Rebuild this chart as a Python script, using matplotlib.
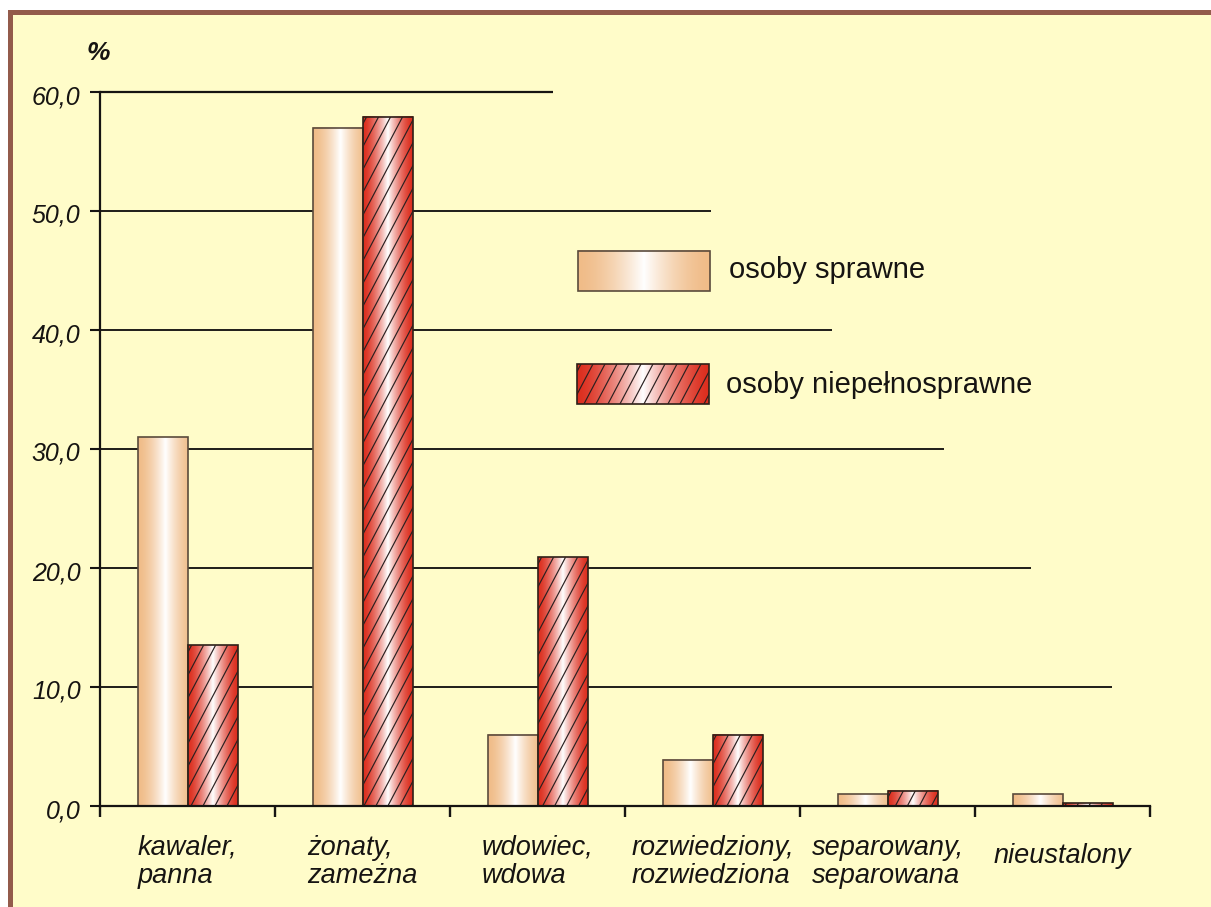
import numpy as np
import matplotlib
matplotlib.use("Agg")
import matplotlib.pyplot as plt
import matplotlib.transforms as mtransforms
from matplotlib.patches import Rectangle
from matplotlib.collections import LineCollection
from matplotlib.colors import to_rgb

# ---------------- data ----------------
categories = ["kawaler,\npanna", "żonaty,\nzameżna", "wdowiec,\nwdowa",
              "rozwiedziony,\nrozwiedziona", "separowany,\nseparowana", "nieustalony"]
sprawne = [31.0, 57.0, 6.0, 3.9, 1.0, 1.0]
niepelnosprawne = [13.5, 57.9, 20.9, 6.0, 1.3, 0.25]
series_names = ["osoby sprawne", "osoby niepełnosprawne"]
yticks = [0, 10, 20, 30, 40, 50, 60]
ytick_labels = ["0,0", "10,0", "20,0", "30,0", "40,0", "50,0", "60,0"]
y_unit = "%"

# ---------------- style ----------------
plt.rcParams["font.family"] = ["Liberation Sans", "DejaVu Sans"]
W, H, DPI = 1211, 907, 100
BG = "#FFFCC9"
BROWN = "#935B4B"
PEACH = to_rgb("#F0BC88")
RED = to_rgb("#DC2E1E")
TXT = "#161412"

fig = plt.figure(figsize=(W / DPI, H / DPI), dpi=DPI)
fig.patch.set_facecolor("white")

def fx(px):
    return px / W

def fy(py):
    return (H - py) / H

# background panel with brown border (top and left)
fig.add_artist(Rectangle((fx(12.5), 0), 1, fy(14.5), transform=fig.transFigure,
                         facecolor=BG, edgecolor="none", zorder=-10))
fig.add_artist(Rectangle((fx(7.5), 0), fx(5), fy(9.5), transform=fig.transFigure,
                         facecolor=BROWN, edgecolor="none", zorder=-9))
fig.add_artist(Rectangle((fx(7.5), fy(14.5)), 1, fy(9.5) - fy(14.5), transform=fig.transFigure,
                         facecolor=BROWN, edgecolor="none", zorder=-9))

ax = fig.add_axes([fx(100), fy(806), fx(1150) - fx(100), fy(92) - fy(806)])
ax.patch.set_visible(False)
ax.set_xlim(-0.5, len(categories) - 0.5)
ax.set_ylim(0, 60)

for s in ["top", "right"]:
    ax.spines[s].set_visible(False)
for s in ["left", "bottom"]:
    ax.spines[s].set_linewidth(1.6)
    ax.spines[s].set_color(TXT)
    ax.spines[s].set_zorder(5)

# staggered gridlines (end positions in px)
grid_end_px = {10: 1112, 20: 1031, 30: 944, 40: 832, 50: 711, 60: 553}
inv = ax.transData.inverted()
for yv, xe in grid_end_px.items():
    xend = inv.transform((xe, 0))[0]
    ax.plot([-0.5, xend], [yv, yv], color=TXT, lw=1.6 if yv == 60 else 1.35,
            zorder=1, solid_capstyle="butt", clip_on=False)

ax.set_yticks(yticks)
ax.set_yticklabels([])
ax.tick_params(axis="y", direction="out", length=7.5, width=1.5, color=TXT)
ax.set_xticks(np.arange(-0.5, len(categories), 1.0))
ax.set_xticklabels([])
ax.tick_params(axis="x", direction="out", length=8, width=1.7, color=TXT)

ylab_tr = ax.get_yaxis_transform() + mtransforms.ScaledTranslation(-0.195, -0.05, fig.dpi_scale_trans)
for yv, lab in zip(yticks, ytick_labels):
    ax.text(0, yv, lab, transform=ylab_tr, ha="right", va="center",
            fontsize=18, fontstyle="italic", color=TXT)

fig.text(fx(98), fy(53), y_unit, ha="center", va="center", fontsize=19,
         fontstyle="italic", fontweight="bold", color=TXT)

# category labels
xlab_tr = mtransforms.blended_transform_factory(ax.transData, fig.transFigure)
for i, c in enumerate(categories):
    ypx = 862 if "\n" in c else 856
    ax.text(i, fy(ypx), c, transform=xlab_tr, ha="center", va="center",
            multialignment="left", fontsize=19.5, fontstyle="italic",
            color=TXT, linespacing=1.12)


def gradient_box(x0, y0, w, h, edge_rgb, center, power, edgecolor, hatch, zorder, clip_on=True):
    t = np.linspace(0, 1, 256)
    f = np.clip(1 - np.abs(t - center) / max(center, 1 - center), 0, 1) ** power
    rgb = np.array(edge_rgb)[None, :] * (1 - f[:, None]) + f[:, None]
    img = rgb[None, :, :]
    im = ax.imshow(img, extent=[x0, x0 + w, y0, y0 + h], aspect="auto",
                   interpolation="bilinear", zorder=zorder, origin="lower")
    rect = Rectangle((x0, y0), w, h, fill=False, edgecolor=edgecolor, lw=1.2,
                     zorder=zorder + 0.2, clip_on=clip_on)
    ax.add_patch(rect)
    im.set_clip_on(clip_on)
    if hatch:
        X0, Y0 = ax.transData.transform((x0, y0))
        X1, Y1 = ax.transData.transform((x0 + w, y0 + h))
        slope, spacing = 1.9, 12.0
        run = (Y1 - Y0) / slope
        starts = np.arange(X0 - run + 4, X1, spacing)
        invt = ax.transData.inverted()
        segs = [invt.transform([(xs, Y0), (xs + run, Y1)]) for xs in starts]
        lc = LineCollection(segs, colors="#2a2020", linewidths=0.85, zorder=zorder + 0.1)
        ax.add_collection(lc, autolim=False)
        clip_rect = Rectangle((x0, y0), w, h, transform=ax.transData)
        lc.set_clip_path(clip_rect)
    return rect


x = np.arange(len(categories))
bw = 50 / 175
for i in range(len(categories)):
    gradient_box(x[i] - bw, 0, bw, sprawne[i], PEACH, 0.55, 1.6, "#5a4b3c", False, 2)
    gradient_box(x[i], 0, bw, niepelnosprawne[i], RED, 0.5, 1.5, "#2e2018", True, 2)

# legend (drawn boxes)
def px2data(px, py):
    return inv.transform((px, H - py))

for (bx0, by0, bx1, by1), col, hatch, ec, txt_x, txt_y, name in [
        ((578, 251, 710, 291), PEACH, False, "#5a4b3c", 729, 270, series_names[0]),
        ((577, 364, 709, 404), RED, True, "#2e2018", 726, 385, series_names[1])]:
    d0 = px2data(bx0, by1)
    d1 = px2data(bx1, by0)
    gradient_box(d0[0], d0[1], d1[0] - d0[0], d1[1] - d0[1], col, 0.5,
                 1.6 if not hatch else 1.5, ec, hatch, 4, clip_on=False)
    fig.text(fx(txt_x), fy(txt_y), name, ha="left", va="center", fontsize=21, color=TXT)

ax.set_xlim(-0.5, len(categories) - 0.5)
ax.set_ylim(0, 60)

fig.savefig("out.png", dpi=DPI, facecolor=fig.get_facecolor())
